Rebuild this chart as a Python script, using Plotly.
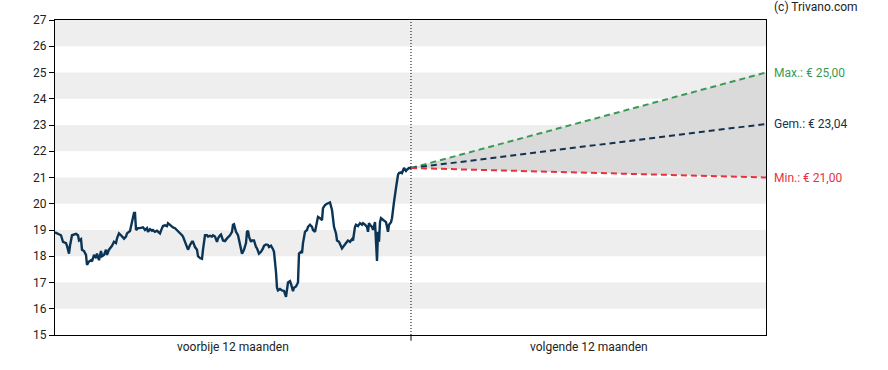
import plotly.graph_objects as go

# time axis in arbitrary units: past year 0..356, next year 356..711
past_t = [0, 4, 6, 8, 11, 12, 14, 15, 17, 21, 23, 24, 26, 27, 29, 31, 32, 34, 36, 37,
          39, 41, 42, 44, 46, 47, 49, 51, 52, 54, 56, 57, 59, 61, 62, 64, 66, 67, 69, 71,
          72, 75, 77, 79, 80, 81, 83, 85, 88, 90, 92, 93, 95, 97, 98, 100, 102, 103, 105, 107,
          108, 110, 112, 113, 115, 117, 118, 120, 122, 123, 125, 127, 128, 130, 132, 133, 135, 137, 138, 140,
          142, 143, 145, 147, 148, 150, 152, 153, 155, 157, 158, 160, 162, 163, 165, 166, 168, 170, 172, 175,
          177, 178, 179, 181, 183, 184, 186, 187, 189, 191, 192, 193, 194, 196, 197, 199, 201, 202, 204, 206,
          208, 209, 211, 213, 214, 216, 218, 219, 221, 222, 223, 225, 227, 229, 231, 232, 233, 235, 236, 238,
          239, 241, 243, 244, 246, 247, 248, 250, 252, 253, 255, 257, 258, 260, 262, 263, 265, 267, 268, 270,
          272, 273, 275, 277, 278, 279, 281, 282, 284, 286, 287, 288, 290, 292, 293, 295, 297, 298, 300, 301,
          303, 305, 307, 308, 310, 312, 313, 314, 315, 317, 318, 320, 322, 323, 324, 325, 326, 328, 331, 333,
          334, 336, 337, 339, 340, 341, 343, 344, 346, 347, 349, 351, 352, 354, 356]
past_v = [18.91, 18.85, 18.8, 18.55, 18.5, 18.4, 18.1, 18.4, 18.8, 18.85, 18.8, 18.6, 18.65, 18.25, 18.2, 18.05, 17.67, 17.8, 17.85, 17.8,
          18.05, 17.93, 18.1, 17.85, 18.2, 18.0, 18.05, 18.25, 18.05, 18.25, 18.35, 18.4, 18.55, 18.5, 18.68, 18.87, 18.8, 18.75, 18.67, 18.75,
          18.87, 18.96, 19.26, 19.65, 19.65, 19.0, 19.07, 19.07, 19.1, 19.0, 19.07, 18.93, 19.03, 18.97, 19.0, 18.93, 18.97, 18.93, 18.87, 19.07,
          19.15, 19.18, 19.15, 19.26, 19.18, 19.1, 19.1, 19.07, 19.0, 18.93, 18.87, 18.8, 18.75, 18.55, 18.3, 18.25, 18.43, 18.55, 18.55, 18.35,
          18.25, 18.0, 17.93, 17.9, 18.25, 18.8, 18.8, 18.75, 18.78, 18.75, 18.8, 18.75, 18.55, 18.68, 18.8, 18.83, 18.6, 18.58, 18.68, 18.8,
          18.93, 19.2, 19.22, 18.93, 18.8, 18.6, 18.17, 18.1, 18.25, 18.5, 18.93, 18.97, 18.75, 18.55, 18.6, 18.6, 18.35, 18.3, 18.1, 18.17,
          18.3, 18.4, 18.45, 18.43, 18.35, 18.4, 18.27, 18.17, 17.4, 16.8, 16.7, 16.75, 16.7, 16.68, 16.45, 16.83, 17.0, 17.05, 16.95, 16.67,
          16.8, 16.85, 17.0, 18.1, 18.17, 18.12, 18.5, 18.93, 19.0, 19.12, 19.2, 19.12, 19.0, 18.93, 19.38, 19.5, 19.45, 19.38, 19.83, 19.95,
          20.0, 20.02, 20.05, 19.76, 19.3, 19.12, 18.87, 18.6, 18.55, 18.4, 18.3, 18.35, 18.43, 18.55, 18.6, 18.55, 18.65, 18.6, 19.12, 19.2,
          19.15, 19.26, 19.2, 19.26, 19.2, 19.12, 18.93, 19.26, 19.2, 19.12, 19.0, 19.3, 17.82, 18.93, 18.55, 19.3, 19.45, 19.38, 19.3, 18.93,
          19.2, 19.3, 19.45, 20.07, 20.45, 20.6, 21.1, 21.17, 21.2, 21.17, 21.36, 21.25, 21.3, 21.36, 21.36]
past_t = past_t[:len(past_v)]

future_t = [356, 711]
fc_max = [21.36, 25.00]
fc_avg = [21.36, 23.04]
fc_min = [21.36, 21.00]
fc_labels = ["Max.: € 25,00", "Gem.: € 23,04", "Min.: € 21,00"]
fc_colors = ["#3a9a55", "#14324f", "#e8313f"]

period_labels = ["voorbije 12 maanden", "volgende 12 maanden"]
y_ticks = list(range(15, 28))

X_END = 711
DIV = 356

fig = go.Figure()

# fan fill
fig.add_trace(go.Scatter(
    x=future_t + future_t[::-1], y=fc_max + fc_min[::-1],
    fill="toself", fillcolor="#dadada", line=dict(width=0),
    mode="lines", hoverinfo="skip", showlegend=False))

for vals, col in zip([fc_max, fc_avg, fc_min], fc_colors):
    fig.add_trace(go.Scatter(x=future_t, y=vals, mode="lines",
                             line=dict(color=col, width=2, dash="6px,4px"),
                             showlegend=False, hoverinfo="skip"))

fig.add_trace(go.Scatter(x=past_t, y=past_v, mode="lines",
                         line=dict(color="#0b3556", width=2.4),
                         showlegend=False))

shapes = []
for lo in range(16, 27, 2):
    shapes.append(dict(type="rect", xref="x", yref="y", x0=0, x1=X_END, y0=lo, y1=lo + 1,
                       fillcolor="#eeeeee", line=dict(width=0), layer="below"))
shapes.append(dict(type="line", xref="x", yref="y", x0=DIV, x1=DIV, y0=15, y1=27,
                   line=dict(color="#000000", width=1, dash="1px,2px")))
# tick below axis at divider
shapes.append(dict(type="line", xref="x", yref="paper", x0=DIV, x1=DIV, y0=0, y1=-0.018,
                   line=dict(color="#000000", width=1)))

annotations = []
for vals, lab, col in zip([fc_max, fc_avg, fc_min], fc_labels, fc_colors):
    annotations.append(dict(x=X_END, y=vals[-1], xref="x", yref="y", text=lab,
                            showarrow=False, xanchor="left", xshift=6,
                            font=dict(color=col, size=12)))
annotations.append(dict(x=DIV / 2, y=0, xref="x", yref="paper", text=period_labels[0],
                        showarrow=False, yanchor="top", yshift=-3, font=dict(size=12, color="#222")))
annotations.append(dict(x=(DIV + X_END) / 2, y=0, xref="x", yref="paper", text=period_labels[1],
                        showarrow=False, yanchor="top", yshift=-3, font=dict(size=12, color="#222")))
annotations.append(dict(x=1, y=1, xref="paper", yref="paper", text="(c) Trivano.com",
                        showarrow=False, xanchor="left", yanchor="bottom", xshift=6, yshift=4,
                        font=dict(size=12, color="#222")))

fig.update_layout(
    width=888, height=370,
    margin=dict(l=55, r=122, t=20, b=35, autoexpand=False),
    paper_bgcolor="white", plot_bgcolor="white",
    font=dict(family="Roboto", size=12, color="#222"),
    shapes=shapes, annotations=annotations,
    xaxis=dict(range=[0, X_END], showgrid=False, zeroline=False, showticklabels=False,
               showline=True, mirror=True, linecolor="#000", linewidth=1, ticks="",
               automargin=False),
    yaxis=dict(range=[15, 27], tickvals=y_ticks, showgrid=False, zeroline=False,
               showline=True, mirror=True, linecolor="#000", linewidth=1,
               ticks="outside", ticklen=5, tickcolor="#000", ticklabelstandoff=0,
               tickfont=dict(size=12, color="#222"), automargin=False),
)

fig.write_html("out.html", config={"displayModeBar": False},
               post_script="document.body.style.margin='0';document.body.style.overflow='hidden';")
